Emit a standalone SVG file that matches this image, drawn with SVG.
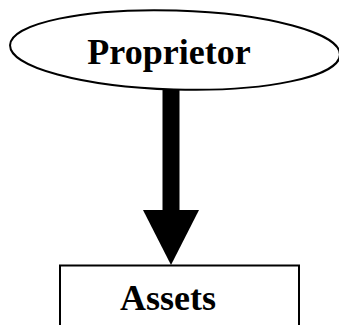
<svg xmlns="http://www.w3.org/2000/svg" width="339" height="325" viewBox="0 0 339 325">
  <style>
    .shape { fill: #ffffff; stroke: #000000; stroke-width: 2; }
    .label { font-family: "Liberation Serif", "Times New Roman", serif; font-weight: bold; font-size: 36px; fill: #000000; text-anchor: middle; }
  </style>
  <rect width="339" height="325" fill="#ffffff"/>

  <g id="assets">
    <rect class="shape" x="60" y="265.5" width="239" height="80"/>
    <text class="label" x="168" y="310">Assets</text>
  </g>

  <g id="proprietor">
    <ellipse class="shape" cx="175" cy="50" rx="165" ry="39.5" transform="rotate(1.7 175 50)"/>
    <text class="label" x="169" y="64">Proprietor</text>
  </g>

  <g id="connectors">
    <rect x="162.5" y="89" width="17" height="122" fill="#000000"/>
    <polygon points="143,210 199,210 171,265" fill="#000000"/>
  </g>
</svg>
